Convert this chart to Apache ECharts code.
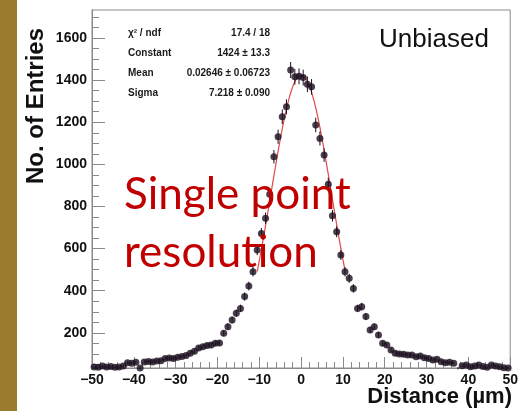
<!DOCTYPE html>
<html><head><meta charset="utf-8">
<script src="https://cdn.jsdelivr.net/npm/echarts@6/dist/echarts.min.js"></script>
<style>html,body{margin:0;padding:0;background:#fff}#c{width:521px;height:411px}</style>
</head><body><div id="c"></div>
<script>
// bin centres (µm), 1 µm bins from -50 to 50
const binCenters = [
 -49.5,-48.5,-47.5,-46.5,-45.5,-44.5,-43.5,-42.5,-41.5,-40.5,
 -39.5,-38.5,-37.5,-36.5,-35.5,-34.5,-33.5,-32.5,-31.5,-30.5,
 -29.5,-28.5,-27.5,-26.5,-25.5,-24.5,-23.5,-22.5,-21.5,-20.5,
 -19.5,-18.5,-17.5,-16.5,-15.5,-14.5,-13.5,-12.5,-11.5,-10.5,
 -9.5,-8.5,-7.5,-6.5,-5.5,-4.5,-3.5,-2.5,-1.5,-0.5,
 0.5,1.5,2.5,3.5,4.5,5.5,6.5,7.5,8.5,9.5,
 10.5,11.5,12.5,13.5,14.5,15.5,16.5,17.5,18.5,19.5,
 20.5,21.5,22.5,23.5,24.5,25.5,26.5,27.5,28.5,29.5,
 30.5,31.5,32.5,33.5,34.5,35.5,36.5,37.5,38.5,39.5,
 40.5,41.5,42.5,43.5,44.5,45.5,46.5,47.5,48.5,49.5
];
const entries = [
 38,36,42,38,40,36,38,42,58,55,
 60,33,62,64,62,66,68,78,80,78,
 84,88,92,103,112,128,134,140,142,150,
 152,198,229,261,293,316,372,422,490,593,
 672,744,858,1036,1131,1226,1273,1448,1416,1418,
 1412,1380,1368,1187,1123,1044,906,756,680,570,
 490,459,411,316,324,277,214,229,190,150,
 142,119,103,100,98,95,95,87,90,82,
 78,71,74,63,58,60,55,32,44,47,
 39,42,47,40,36,47,42,39,34,33
];
// Gaussian fit parameters (from the stats box)
const fitConstant = 1424;
const fitMean = 0.02646;
const fitSigma = 7.218;
const fitRange = [-10.5, 10.5];
const yMajorTicks = [200,400,600,800,1000,1200,1400,1600];
const yMinorTicks = [50,100,150,200,250,300,350,400,450,500,550,600,650,700,750,800,850,900,950,1000,1050,1100,1150,1200,1250,1300,1350,1400,1450,1500,1550,1600,1650,1700];
const statsLabels = ['\u03c7\u00b2 / ndf','Constant','Mean','Sigma'];
const statsValues = ['17.4 / 18','1424 \u00b1 13.3','0.02646 \u00b1 0.06723','7.218 \u00b1 0.090'];

const fitCurve = [];
for (let x = fitRange[0]; x <= fitRange[1] + 1e-9; x += 0.1) {
  fitCurve.push([x, fitConstant * Math.exp(-0.5 * Math.pow((x - fitMean) / fitSigma, 2))]);
}
const pts = binCenters.map((c, i) => [c, entries[i], Math.sqrt(entries[i])]);

const axisCol = '#8a8a8a';
const lblFont = 'Liberation Sans, Arial, Helvetica, sans-serif';
const chart = echarts.init(document.getElementById('c'), null, {renderer: 'canvas'});

const graphic = [
  {type:'rect', shape:{x:0,y:0,width:17,height:411}, style:{fill:'#9b7b2d'}, z:100},
  {type:'text', x:379, y:40, style:{text:'Unbiased', font:'26px ' + lblFont, fill:'#111', verticalAlign:'middle'}, z:100},
  {type:'text', x:36, y:106, rotation:Math.PI/2, style:{text:'No. of Entries', font:'bold 24px ' + lblFont, fill:'#111', align:'center', verticalAlign:'middle'}, z:100},
  {type:'text', x:512, y:397, style:{text:'Distance (\u00b5m)', font:'bold 22px ' + lblFont, fill:'#111', align:'right', verticalAlign:'middle'}, z:100},
  {type:'text', x:124, y:195, style:{text:'Single point', font:'44px Lato, sans-serif', fill:'#c00000', verticalAlign:'middle'}, z:100},
  {type:'text', x:124, y:253, style:{text:'resolution', font:'44px Lato, sans-serif', fill:'#c00000', verticalAlign:'middle'}, z:100}
];
statsLabels.forEach((t, i) => {
  graphic.push({type:'text', x:128, y:33 + i*20, style:{text:t, font:'bold 10px ' + lblFont, fill:'#1a1a1a', verticalAlign:'middle'}, z:100});
  graphic.push({type:'text', x:270, y:33 + i*20, style:{text:statsValues[i], font:'bold 10px ' + lblFont, fill:'#1a1a1a', align:'right', verticalAlign:'middle'}, z:100});
});

chart.setOption({
  animation: false,
  backgroundColor: '#fff',
  grid: {left:92, right:9, top:10, bottom:43, show:true, borderColor:axisCol, borderWidth:1, backgroundColor:'transparent'},
  xAxis: [
    {type:'value', min:-50, max:50, interval:10, position:'bottom',
     axisLine:{show:true, onZero:false, lineStyle:{color:axisCol, width:1}},
     axisTick:{show:true, inside:true, length:11, lineStyle:{color:axisCol}},
     axisLabel:{color:'#111', fontFamily:lblFont, fontWeight:'bold', fontSize:14, margin:5,
                formatter: v => String(v).replace('-', '\u2212')},
     splitLine:{show:false}},
    {type:'value', min:-50, max:50, interval:2, position:'bottom', offset:0,
     axisLine:{show:false, onZero:false},
     axisTick:{show:true, inside:true, length:6, lineStyle:{color:axisCol}},
     axisLabel:{show:false}, splitLine:{show:false}}
  ],
  yAxis: [
    {type:'value', min:33, max:1733, position:'left',
     axisLine:{show:true, onZero:false, lineStyle:{color:axisCol, width:1}},
     axisTick:{show:true, inside:true, length:13, customValues:yMajorTicks, lineStyle:{color:axisCol}},
     axisLabel:{customValues:yMajorTicks, color:'#111', fontFamily:lblFont, fontWeight:'bold', fontSize:14, margin:5,
                formatter: v => String(v)},
     splitLine:{show:false}},
    {type:'value', min:33, max:1733, position:'left', offset:0,
     axisLine:{show:false, onZero:false},
     axisTick:{show:true, inside:true, length:7, customValues:yMinorTicks, lineStyle:{color:axisCol}},
     axisLabel:{show:false}, splitLine:{show:false}}
  ],
  series: [
    {type:'line', data:fitCurve, showSymbol:false, symbol:'none', xAxisIndex:0, yAxisIndex:0,
     lineStyle:{color:'#e04848', width:1.2}, z:2},
    {type:'custom', data:pts, xAxisIndex:0, yAxisIndex:0, z:3,
     renderItem: (params, api) => {
       const x = api.value(0), y = api.value(1), e = api.value(2);
       const a = api.coord([x, y - e]), b = api.coord([x, y + e]);
       return {type:'line', shape:{x1:a[0], y1:a[1], x2:b[0], y2:b[1]}, style:{stroke:'#1c0f1f', lineWidth:1}};
     }},
    {type:'scatter', data:pts.map(p => [p[0], p[1]]), xAxisIndex:0, yAxisIndex:0, symbol:'circle', symbolSize:7,
     itemStyle:{color:'#1c0f1f'}, z:4}
  ],
  graphic: graphic
});
</script></body></html>
